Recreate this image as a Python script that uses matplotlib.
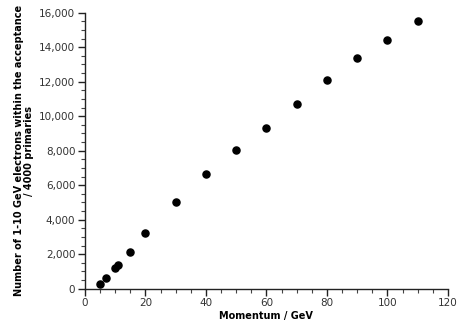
import matplotlib
matplotlib.use('Agg')
import matplotlib.pyplot as plt
from matplotlib.ticker import MultipleLocator, FuncFormatter

# momentum (GeV) vs electrons in acceptance per 4000 primaries
momentum = [5, 7, 10, 11, 15, 20, 30, 40, 50, 60, 70, 80, 90, 100, 110]
electrons = [300, 620, 1200, 1400, 2100, 3200, 5000, 6620, 8060, 9320, 10700,
             12090, 13350, 14400, 15520]

fig = plt.figure(figsize=(4.57, 3.33), dpi=100)
ax = fig.add_axes([0.186, 0.133, 0.794, 0.829])

ax.scatter(momentum, electrons, s=26, color='black', zorder=3)

ax.set_xlim(0, 120)
ax.set_ylim(0, 16000)
ax.xaxis.set_major_locator(MultipleLocator(20))
ax.xaxis.set_minor_locator(MultipleLocator(5))
ax.yaxis.set_major_locator(MultipleLocator(2000))
ax.yaxis.set_minor_locator(MultipleLocator(500))
ax.yaxis.set_major_formatter(FuncFormatter(lambda v, p: f"{int(v):,}"))

for s in ['top', 'right']:
    ax.spines[s].set_visible(False)
for s in ['left', 'bottom']:
    ax.spines[s].set_color('#222222')
    ax.spines[s].set_linewidth(1.0)

ax.tick_params(which='major', length=5, width=1, color='#222222',
               labelsize=7.5, labelcolor='#333333', pad=2)
ax.tick_params(which='minor', length=3, width=0.8, color='#444444')

ax.set_xlabel('Momentum / GeV', fontsize=7, fontweight='bold', labelpad=2)
ax.set_ylabel('Number of 1-10 GeV electrons within the acceptance\n/ 4000 primaries',
              fontsize=7, fontweight='bold', labelpad=4, linespacing=1.0)

fig.savefig('out.png', dpi=100)
